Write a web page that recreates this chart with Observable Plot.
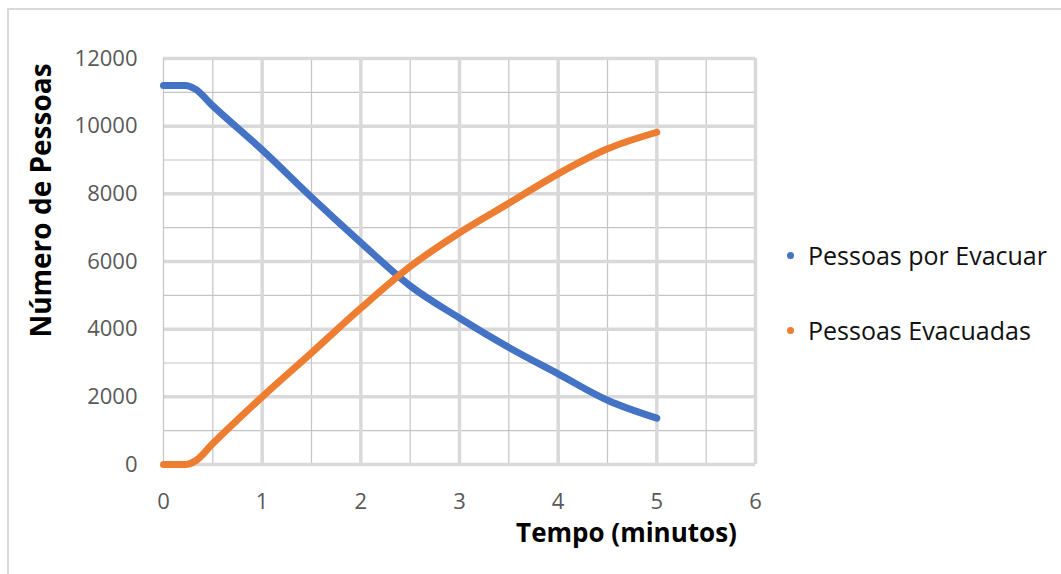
<!DOCTYPE html>
<html><head><meta charset="utf-8">
<script src="https://cdn.jsdelivr.net/npm/d3@7"></script>
<script src="https://cdn.jsdelivr.net/npm/@observablehq/plot@0.6"></script>
<style>
body{margin:0;background:#fff;font-family:"Open Sans",sans-serif;}
#wrap{position:relative;width:1061px;height:574px;overflow:hidden}
#border{position:absolute;left:7px;top:8px;width:1100px;height:600px;border-left:2px solid #d9d9d9;border-top:2px solid #d9d9d9}
#chart{position:absolute;left:0;top:0}
.leg{position:absolute;left:787px;font-size:25px;color:#111;display:flex;align-items:center;height:30px;white-space:nowrap}
.leg .dot{width:7px;height:7px;border-radius:50%;display:inline-block;margin-right:14px}
</style></head><body><div id="wrap"><div id="border"></div><div id="chart"></div><div id="legend"></div></div>
<script>
const tempo = [0, 0.22, 0.32, 0.5, 1, 1.5, 2, 2.5, 3, 3.5, 4, 4.5, 5];
const porEvacuar = [11200, 11200, 11100, 10600, 9300, 7900, 6560, 5280, 4330, 3460, 2680, 1900, 1370];
const evacuadas = [0, 0, 100, 620, 2000, 3300, 4620, 5850, 6850, 7720, 8590, 9330, 9820];
const seriesNames = ["Pessoas por Evacuar", "Pessoas Evacuadas"];
const seriesColors = ["#4472C4", "#ED7D31"];
const xTicks = [0, 1, 2, 3, 4, 5, 6];
const xMinor = [0.5, 1.5, 2.5, 3.5, 4.5, 5.5];
const yTicks = [0, 2000, 4000, 6000, 8000, 10000, 12000];
const yMinor = [1000, 3000, 5000, 7000, 9000, 11000];
const xTitle = "Tempo (minutos)";
const yTitle = "Número de Pessoas";

const data = tempo.flatMap((t, i) => [
  {t, v: porEvacuar[i], s: seriesNames[0]},
  {t, v: evacuadas[i], s: seriesNames[1]}
]);

const chart = Plot.plot({
  width: 1061, height: 574,
  marginLeft: 163, marginRight: 306, marginTop: 58, marginBottom: 110,
  x: {domain: [0, 6]},
  y: {domain: [0, 12000]},
  color: {domain: seriesNames, range: seriesColors},
  style: {fontFamily: "Open Sans", fontSize: "22px", background: "transparent", color: "#595959"},
  marks: [
    Plot.ruleX(xMinor, {stroke: "#c4c4c4", strokeWidth: 1.2}),
    Plot.ruleY(yMinor, {stroke: "#c4c4c4", strokeWidth: 1.2}),
    Plot.ruleX(xTicks.filter(d => d > 0), {stroke: "#d9d9d9", strokeWidth: 3.5}),
    Plot.ruleY(yTicks, {stroke: "#d9d9d9", strokeWidth: 3.5}),
    Plot.ruleX([0], {stroke: "#c4c4c4", strokeWidth: 1.2}),
    Plot.axisX(xTicks, {tickSize: 0, tickPadding: 29, label: null, tickFormat: d => String(d), fill: "#595959"}),
    Plot.axisY(yTicks, {tickSize: 0, tickPadding: 26, label: null, tickFormat: d => String(d), fill: "#595959"}),
    Plot.line(data, {x: "t", y: "v", stroke: "s", z: "s", strokeWidth: 7, curve: "monotone-x", strokeLinecap: "round", strokeLinejoin: "round"}),
    Plot.text([xTitle], {frameAnchor: "bottom", text: d => d, textAnchor: "middle", dx: 167, dy: 77, fill: "#000", fontWeight: "bold", fontSize: 26}),
    Plot.text([yTitle], {frameAnchor: "left", text: d => d, textAnchor: "middle", rotate: -90, dx: -121, dy: -61, fill: "#000", fontWeight: "bold", fontSize: 28})
  ]
});
document.getElementById("chart").appendChild(chart);

const legend = document.getElementById("legend");
const legendTops = [240, 315];
seriesNames.forEach((name, i) => {
  const item = document.createElement("div");
  item.className = "leg";
  item.style.top = legendTops[i] + "px";
  const dot = document.createElement("span");
  dot.className = "dot";
  dot.style.background = seriesColors[i];
  item.appendChild(dot);
  item.appendChild(document.createTextNode(name));
  legend.appendChild(item);
});
</script>
</body></html>
